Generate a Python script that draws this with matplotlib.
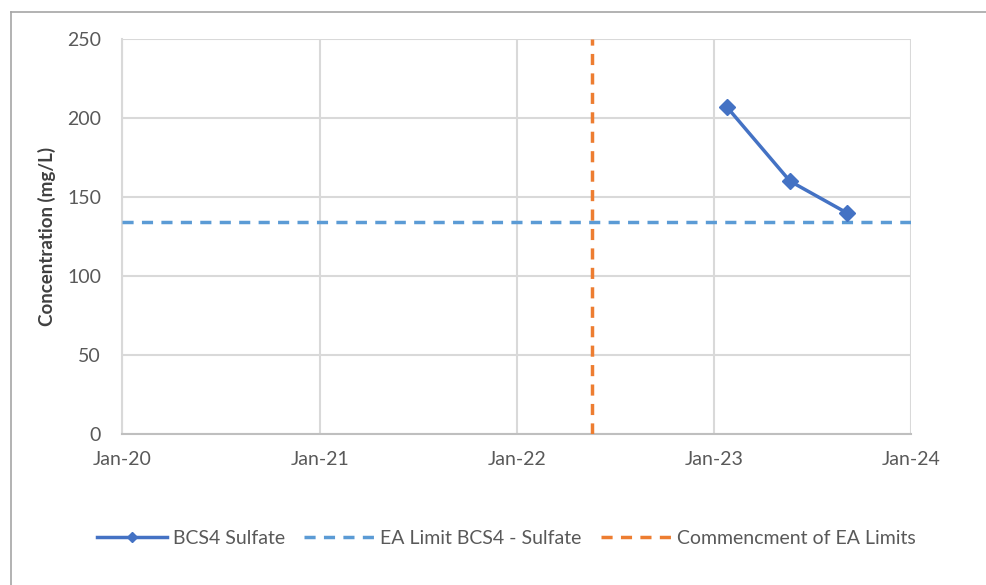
import matplotlib
matplotlib.use("Agg")
import matplotlib.pyplot as plt
import numpy as np
from matplotlib.lines import Line2D

plt.rcParams['font.family'] = ['Lato', 'DejaVu Sans']

# Sulfate sampling results at BCS4
sample_dates = np.array(['2023-01-25', '2023-05-22', '2023-09-04'], dtype='datetime64[D]')
sulfate_mgL = [207, 160, 140]

# EA limit and commencement date
ea_limit = 134
commencement_date = np.datetime64('2022-05-20')

x_start = np.datetime64('2020-01-01')
x_end = np.datetime64('2024-01-01')
year_ticks = np.array(['2020-01-01', '2021-01-01', '2022-01-01', '2023-01-01', '2024-01-01'], dtype='datetime64[D]')
year_labels = ['Jan-20', 'Jan-21', 'Jan-22', 'Jan-23', 'Jan-24']
y_ticks = [0, 50, 100, 150, 200, 250]

W, H = 986, 585
fig = plt.figure(figsize=(W / 100, H / 100), dpi=100)
ax = fig.add_axes([122 / W, 1 - 434 / H, (911 - 122) / W, (434 - 39) / H])

# chart border (top and left edges fall inside the image)
border_c = '#a6a6a6'
fig.add_artist(Line2D([10.5 / W, 10.5 / W], [0, 1 - 11.5 / H], transform=fig.transFigure,
                      color=border_c, linewidth=1.2))
fig.add_artist(Line2D([10.5 / W, 1], [1 - 11.5 / H, 1 - 11.5 / H], transform=fig.transFigure,
                      color=border_c, linewidth=1.2))

grid_c = '#d9d9d9'
ax.set_xlim(x_start, x_end)
ax.set_ylim(0, 250)
ax.set_xticks(year_ticks)
ax.set_xticklabels(year_labels)
ax.set_yticks(y_ticks)
ax.grid(True, color=grid_c, linewidth=1.5)
ax.set_axisbelow(True)
for s in ['top', 'right']:
    ax.spines[s].set_visible(False)
ax.spines['left'].set_color(grid_c)
ax.spines['left'].set_linewidth(1.5)
ax.spines['bottom'].set_color('#bfbfbf')
ax.spines['bottom'].set_linewidth(1.5)
ax.tick_params(length=0, labelsize=14, colors='#595959')
ax.tick_params(axis='y', pad=15)
ax.tick_params(axis='x', pad=12)

ax.set_ylabel('Concentration (mg/L)', fontsize=13.5, fontweight='bold', color='#404040', labelpad=8)

ln1, = ax.plot(sample_dates, sulfate_mgL, color='#4472c4', linewidth=2.5, marker='D',
               markersize=8, label='BCS4 Sulfate', zorder=4)
ln2 = ax.axhline(ea_limit, color='#5b9bd5', linewidth=2.5, linestyle=(0, (3.2, 2.4)),
                 label='EA Limit BCS4 - Sulfate', zorder=3)
ln3 = ax.axvline(commencement_date, color='#ed7d31', linewidth=2.5, linestyle=(0, (3.2, 2.4)),
                 label='Commencment of EA Limits', zorder=3)

leg = fig.legend(handles=[ln1, ln2, ln3], loc='center', bbox_to_anchor=(506 / W, 1 - 538 / H),
                 ncol=3, frameon=False, fontsize=14, handlelength=3.6, columnspacing=1.0,
                 handletextpad=0.3)
for t in leg.get_texts():
    t.set_color('#595959')
leg.legend_handles[0].set_markersize(5)

fig.savefig('out.png', dpi=100)
